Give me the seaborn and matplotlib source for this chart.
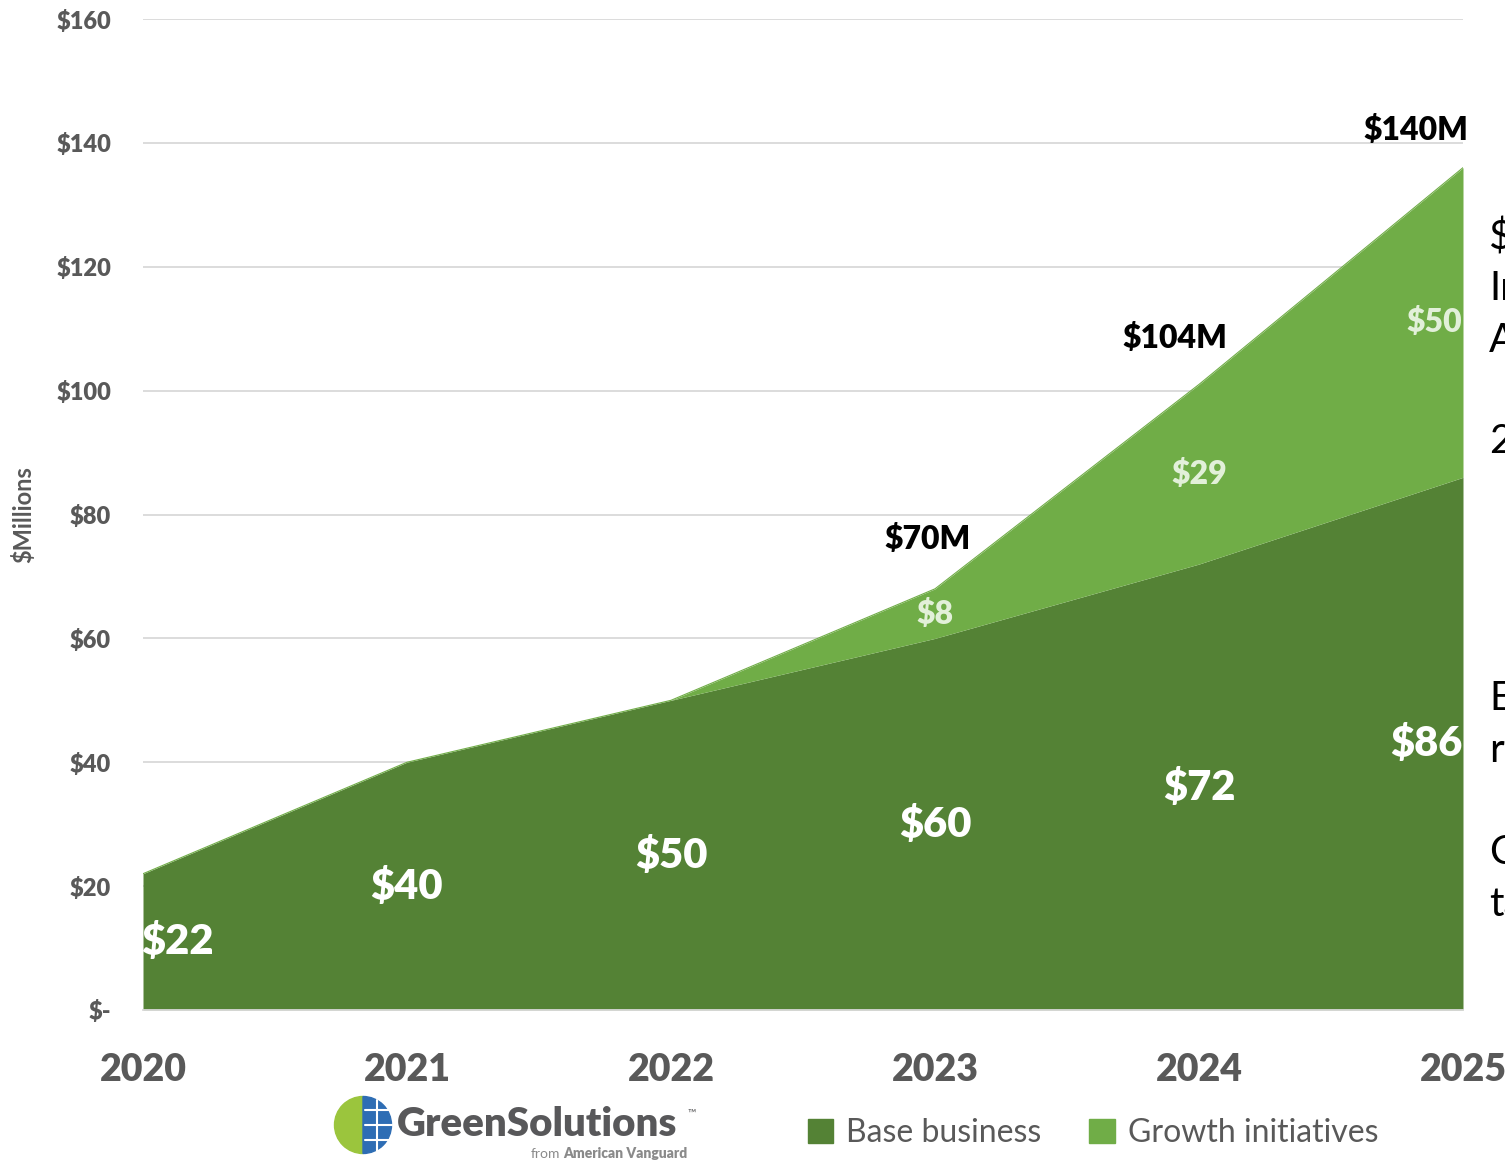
import numpy as np
import pandas as pd
import matplotlib
matplotlib.use("Agg")
import matplotlib.pyplot as plt
import matplotlib.patches as mpatches
import seaborn as sns

# data
years = [2020, 2021, 2022, 2023, 2024, 2025]
base_business = [22, 40, 50, 60, 72, 86]
growth_initiatives = [0, 0, 0, 8, 29, 50]
total_labels = {2023: "$70M", 2024: "$104M", 2025: "$140M"}
y_ticks = [0, 20, 40, 60, 80, 100, 120, 140, 160]
y_tick_labels = ["$-", "$20", "$40", "$60", "$80", "$100", "$120", "$140", "$160"]

df = pd.DataFrame({"Year": years, "Base business": base_business,
                   "Growth initiatives": growth_initiatives})
df["Total"] = df["Base business"] + df["Growth initiatives"]

dark_green = "#548235"
light_green = "#70AD47"
gray = "#595959"

sns.set_theme(style="white")
plt.rcParams["font.family"] = ["Lato", "DejaVu Sans"]

fig = plt.figure(figsize=(15.05, 11.6), dpi=100)
ax = fig.add_axes([143 / 1505, 1 - 1010 / 1160, 1320 / 1505, 991 / 1160])

ax.stackplot(df["Year"], df["Base business"], df["Growth initiatives"],
             colors=[dark_green, light_green], linewidth=0,
             labels=["Base business", "Growth initiatives"])
sns.lineplot(x="Year", y="Total", data=df, ax=ax, color=light_green,
             linewidth=0.8, legend=False)

ax.set_xlim(2020, 2025)
ax.set_ylim(0, 160)
ax.set_yticks(y_ticks)
ax.set_yticklabels(y_tick_labels, fontsize=17, fontweight="heavy", color=gray)
ax.set_xticks(years)
ax.set_xticklabels([str(y) for y in years], fontsize=27, fontweight="heavy", color=gray)
ax.tick_params(axis="y", length=0, pad=23)
ax.tick_params(axis="x", length=9, width=1.2, color="#D9D9D9", pad=22, direction="out")
for t in y_ticks[1:]:
    ax.axhline(t, color="#D9D9D9", linewidth=1.3, zorder=0)
ax.set_axisbelow(True)
sns.despine(ax=ax, left=True, top=True, right=True)
ax.spines["bottom"].set_color("#D9D9D9")
ax.spines["bottom"].set_linewidth(1.3)
ax.set_xlabel("")
ax.set_ylabel("$Millions", fontsize=17, fontweight="bold", color=gray)
ax.yaxis.set_label_coords(-108 / 1320, 0.5)

# value labels inside the areas
x_shift = {2020: 0.13, 2025: -0.14}
for yr, b, g in zip(years, base_business, growth_initiatives):
    xs = yr + x_shift.get(yr, 0)
    ax.text(xs, b / 2, f"${b}", color="white", fontsize=30, fontweight="heavy",
            ha="center", va="center")
    if g > 0:
        gx = yr + (-0.11 if yr == 2025 else 0)
        ax.text(gx, b + g / 2, f"${g}", color="#E2F0D9", fontsize=23,
                fontweight="heavy", ha="center", va="center")

total_pos = {2023: (-0.03, 76), 2024: (-0.09, 108.5), 2025: (-0.18, 142)}
for yr, lab in total_labels.items():
    dx, yv = total_pos[yr]
    ax.text(yr + dx, yv, lab, color="black", fontsize=23, fontweight="heavy",
            ha="center", va="center")

# legend
handles = [mpatches.Patch(color=dark_green, label="Base business"),
           mpatches.Patch(color=light_green, label="Growth initiatives")]
fig.legend(handles=handles, loc="center", bbox_to_anchor=(1093 / 1505, 1 - 1133 / 1160),
           ncol=2, frameon=False, fontsize=23, labelcolor=gray, handlelength=0.8,
           handleheight=0.8, handletextpad=0.4, columnspacing=1.5)

# logo
lax = fig.add_axes([333 / 1505, 1 - 1155 / 1160, 60 / 1505, 60 / 1160])
lax.set_xlim(-1, 1)
lax.set_ylim(-1, 1)
lax.set_aspect("equal")
lax.axis("off")
lax.add_patch(mpatches.Wedge((0, 0), 0.95, 90, 270, color="#9BC53D"))
lax.add_patch(mpatches.Wedge((0, 0), 0.95, -90, 90, color="#2E6DB4"))
for yy in [-0.5, 0, 0.5]:
    lax.plot([0.05, 0.95], [yy, yy], color="white", linewidth=1.5)
lax.plot([0.45, 0.45], [-0.85, 0.85], color="white", linewidth=1.5)
fig.text(397 / 1505, 1 - 1125 / 1160, "GreenSolutions", fontsize=29, fontweight="heavy",
         color="#58585A", ha="left", va="center")
fig.text(688 / 1505, 1 - 1113 / 1160, "™", fontsize=8, color="#58585A", ha="left", va="center")
fig.text(560 / 1505, 1 - 1154 / 1160, "from", fontsize=10,
         color="#8A8A8A", ha="right", va="center")
fig.text(687 / 1505, 1 - 1154 / 1160, "American Vanguard", fontsize=10, fontweight="heavy",
         color="#8A8A8A", ha="right", va="center")

# text cut off at the right edge of the slide (as in the source slide)
side_text = [("$", 237), ("In", 289), ("A", 341), ("2", 441),
             ("E", 698), ("r", 750), ("C", 852), ("ta", 904)]
for s, yp in side_text:
    fig.text(1489 / 1505, 1 - yp / 1160, s, fontsize=29, color="black",
             ha="left", va="center")

fig.savefig("out.png", dpi=100)
